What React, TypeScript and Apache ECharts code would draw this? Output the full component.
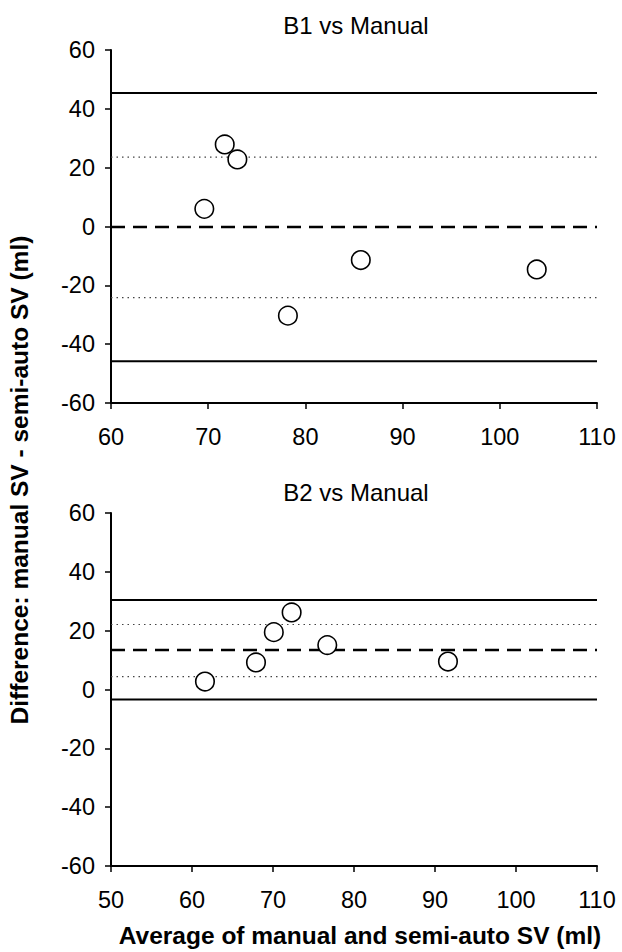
import React, { useEffect, useRef } from "react";
import * as echarts from "echarts";

// ---- Data ----
const b1X = [69.6, 71.7, 73.0, 78.2, 85.7, 103.8];
const b1Y = [6.0, 27.9, 22.8, -30.3, -11.4, -14.6];
const b1Limits = [45.4, -45.8];
const b1Mean = [-0.2];
const b1CI = [23.6, -24.2];

const b2X = [61.6, 67.9, 70.1, 72.3, 76.7, 91.6];
const b2Y = [2.7, 9.2, 19.5, 26.2, 15.1, 9.5];
const b2Limits = [30.4, -3.4];
const b2Mean = [13.4];
const b2CI = [22.1, 4.4];

const b1XRange = [60, 110];
const b2XRange = [50, 110];
const yRange = [-60, 60];

const titles = ["B1 vs Manual", "B2 vs Manual"];
const xTitle = "Average of manual and semi-auto SV (ml)";
const yTitle = "Difference: manual SV - semi-auto SV (ml)";

const FONT = "'Liberation Sans', Arial, sans-serif";

function hLines(values: number[], range: number[], gi: number, style: any, name: string) {
  return values.map((v, i) => ({
    name: `${name}${i}`,
    type: "line",
    xAxisIndex: gi,
    yAxisIndex: gi,
    data: [
      [range[0], v],
      [range[1], v],
    ],
    symbol: "none",
    silent: true,
    z: 1,
    lineStyle: style,
  }));
}

function axisCommon() {
  return {
    type: "value",
    axisLine: { show: true, onZero: false, lineStyle: { color: "#000", width: 2 } },
    axisTick: { show: true, inside: false, length: 6, lineStyle: { color: "#000", width: 1.5 } },
    axisLabel: { color: "#000", fontSize: 23.5, fontFamily: FONT },
    splitLine: { show: false },
  };
}

export default function App() {
  const ref = useRef<HTMLDivElement>(null);
  useEffect(() => {
    if (!ref.current) return;
    const chart = echarts.init(ref.current, undefined, { renderer: "svg" });
    const solid = { color: "#000", width: 2, type: "solid" };
    const dashed = { color: "#000", width: 2.5, type: [14, 8] };
    const dotted = { color: "#444", width: 1.2, type: [1.5, 4] };

    const scatterStyle = { color: "#fff", borderColor: "#000", borderWidth: 1.6, opacity: 1 };

    const series: any[] = [
      ...hLines(b1Limits, b1XRange, 0, solid, "b1lim"),
      ...hLines(b1Mean, b1XRange, 0, dashed, "b1mean"),
      ...hLines(b1CI, b1XRange, 0, dotted, "b1ci"),
      ...hLines(b2Limits, b2XRange, 1, solid, "b2lim"),
      ...hLines(b2Mean, b2XRange, 1, dashed, "b2mean"),
      ...hLines(b2CI, b2XRange, 1, dotted, "b2ci"),
      {
        name: "B1",
        type: "scatter",
        xAxisIndex: 0,
        yAxisIndex: 0,
        z: 5,
        symbol: "circle",
        symbolSize: 18.5,
        itemStyle: scatterStyle,
        data: b1X.map((x, i) => [x, b1Y[i]]),
      },
      {
        name: "B2",
        type: "scatter",
        xAxisIndex: 1,
        yAxisIndex: 1,
        z: 5,
        symbol: "circle",
        symbolSize: 18.5,
        itemStyle: scatterStyle,
        data: b2X.map((x, i) => [x, b2Y[i]]),
      },
    ];

    const lbl = axisCommon().axisLabel;
    chart.setOption({
      animation: false,
      backgroundColor: "#fff",
      grid: [
        { left: 111, width: 486, top: 50, height: 353 },
        { left: 111, width: 486, top: 513, height: 353 },
      ],
      xAxis: [
        { ...axisCommon(), gridIndex: 0, min: b1XRange[0], max: b1XRange[1], interval: 10, axisLabel: { ...lbl, margin: 22 } },
        { ...axisCommon(), gridIndex: 1, min: b2XRange[0], max: b2XRange[1], interval: 10, axisLabel: { ...lbl, margin: 22 } },
      ],
      yAxis: [
        { ...axisCommon(), gridIndex: 0, min: yRange[0], max: yRange[1], interval: 20, axisLabel: { ...lbl, margin: 16 } },
        { ...axisCommon(), gridIndex: 1, min: yRange[0], max: yRange[1], interval: 20, axisLabel: { ...lbl, margin: 16 } },
      ],
      graphic: [
        { type: "text", x: 356, y: 25, style: { text: titles[0], fill: "#000", font: `24px ${FONT}`, align: "center", verticalAlign: "middle" } },
        { type: "text", x: 356, y: 492, style: { text: titles[1], fill: "#000", font: `24px ${FONT}`, align: "center", verticalAlign: "middle" } },
        { type: "text", x: 360, y: 935, style: { text: xTitle, fill: "#000", font: `bold 24.5px ${FONT}`, align: "center", verticalAlign: "middle" } },
        { type: "text", x: 19, y: 480, rotation: Math.PI / 2, style: { text: yTitle, fill: "#000", font: `bold 24.5px ${FONT}`, align: "center", verticalAlign: "middle" } },
      ],
      series,
    });
    return () => chart.dispose();
  }, []);
  return <div ref={ref} style={{ position: "fixed", left: 0, top: 0, width: 622, height: 952, background: "#fff" }} />;
}
